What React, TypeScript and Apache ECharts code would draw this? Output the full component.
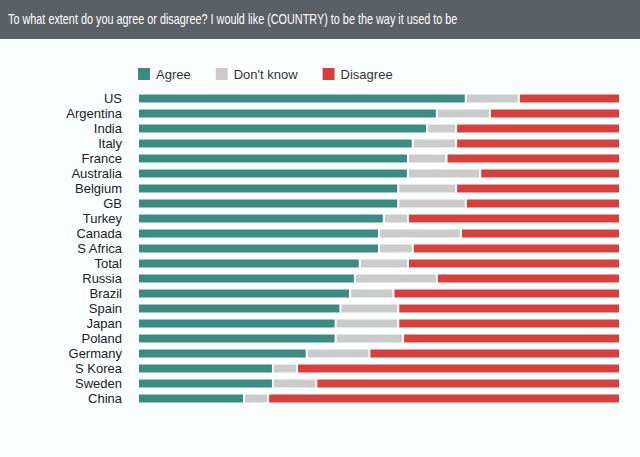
import React, { useEffect, useRef } from "react";
import * as echarts from "echarts";

const categories = ["US", "Argentina", "India", "Italy", "France", "Australia", "Belgium", "GB", "Turkey", "Canada", "S Africa", "Total", "Russia", "Brazil", "Spain", "Japan", "Poland", "Germany", "S Korea", "Sweden", "China"];
const agree = [68, 62, 60, 57, 56, 56, 54, 54, 51, 50, 50, 46, 45, 44, 42, 41, 41, 35, 28, 28, 22];
const dontKnow = [11, 11, 6, 9, 8, 15, 12, 14, 5, 17, 7, 10, 17, 9, 12, 13, 14, 13, 5, 9, 5];
const disagree = [21, 27, 34, 34, 36, 29, 34, 32, 44, 33, 43, 44, 38, 47, 46, 46, 45, 52, 67, 63, 73];
const seriesNames = ["Agree", "Don't know", "Disagree"];
const titleText = "To what extent do you agree or disagree? I would like (COUNTRY) to be the way it used to be";

const FONT = "'Liberation Sans', Arial, Helvetica, sans-serif";

export default function App() {
  const ref = useRef<HTMLDivElement>(null);
  useEffect(() => {
    if (!ref.current) return;
    const chart = echarts.init(ref.current, undefined, { renderer: "svg" });
    const colors = ["#3b8b83", "#cbcbcb", "#d5403c"];
    const data = [agree, dontKnow, disagree];
    chart.setOption({
      animation: false,
      backgroundColor: "#fbfefe",
      textStyle: { fontFamily: FONT },
      graphic: [
        { type: "rect", x: 0, y: 0, shape: { width: 640, height: 39 }, style: { fill: "#5b5f66" }, z: 0 },
        {
          type: "text",
          x: 8,
          y: 20,
          scaleX: 0.775,
          style: { text: titleText, fill: "#ffffff", font: `14px ${FONT}`, textVerticalAlign: "middle", verticalAlign: "middle" },
          z: 1,
        },
      ],
      legend: {
        left: 131,
        top: 61,
        itemWidth: 14,
        itemHeight: 14,
        itemGap: 23,
        icon: "rect",
        textStyle: { fontSize: 13, color: "#333", fontFamily: FONT },
        data: seriesNames,
      },
      grid: { left: 138, right: 20, top: 91, height: 315, containLabel: false },
      xAxis: { type: "value", min: 0, max: 100, show: false },
      yAxis: {
        type: "category",
        inverse: true,
        data: categories,
        axisLine: { show: false },
        axisTick: { show: false },
        axisLabel: { fontSize: 13, color: "#222", margin: 16, interval: 0, fontFamily: FONT },
      },
      series: seriesNames.map((name, i) => ({
        name,
        type: "bar",
        stack: "total",
        barWidth: 10,
        data: data[i],
        itemStyle: { color: colors[i], borderColor: "#ffffff", borderWidth: 1 },
      })),
    });
    return () => chart.dispose();
  }, []);
  return <div ref={ref} style={{ position: "absolute", left: 0, top: 0, width: 640, height: 457 }} />;
}
